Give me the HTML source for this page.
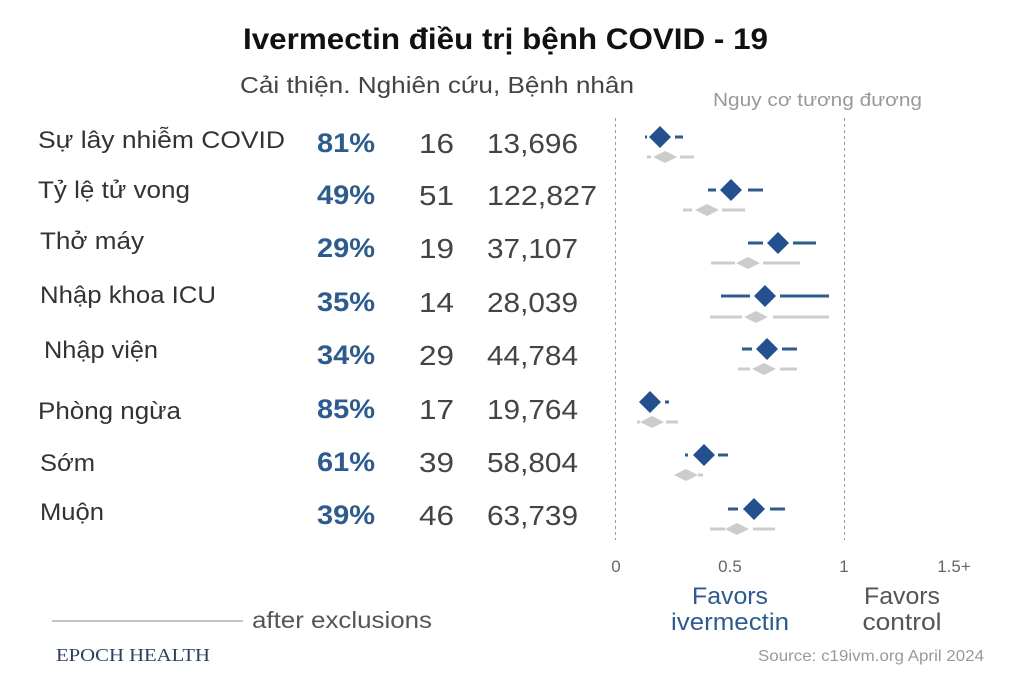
<!DOCTYPE html>
<html><head><meta charset="utf-8"><style>
html,body{margin:0;padding:0;background:#fff;}
svg{display:block;font-family:"Liberation Sans",Arial,sans-serif;}
</style></head><body>
<svg width="1024" height="683" viewBox="0 0 1024 683" xmlns="http://www.w3.org/2000/svg">
<text x="243" y="49" font-size="30" font-weight="bold" fill="#111" textLength="525" lengthAdjust="spacingAndGlyphs">Ivermectin điều trị bệnh COVID - 19</text>
<text x="240" y="93" font-size="23" fill="#444" textLength="394" lengthAdjust="spacingAndGlyphs">Cải thiện. Nghiên cứu, Bệnh nhân</text>
<text x="713" y="106" font-size="18" fill="#999" textLength="209" lengthAdjust="spacingAndGlyphs">Nguy cơ tương đương</text>
<g font-size="24" fill="#333">
<text x="38" y="148" textLength="247" lengthAdjust="spacingAndGlyphs">Sự lây nhiễm COVID</text>
<text x="38" y="198" textLength="152" lengthAdjust="spacingAndGlyphs">Tỷ lệ tử vong</text>
<text x="40" y="249" textLength="104" lengthAdjust="spacingAndGlyphs">Thở máy</text>
<text x="40" y="303" textLength="176" lengthAdjust="spacingAndGlyphs">Nhập khoa ICU</text>
<text x="44" y="358" textLength="114" lengthAdjust="spacingAndGlyphs">Nhập viện</text>
<text x="38" y="419" textLength="143" lengthAdjust="spacingAndGlyphs">Phòng ngừa</text>
<text x="40" y="471" textLength="55" lengthAdjust="spacingAndGlyphs">Sớm</text>
<text x="40" y="520" textLength="64" lengthAdjust="spacingAndGlyphs">Muộn</text>
</g>
<g font-size="27" font-weight="bold" fill="#2d5b8d">
<text x="317" y="152" textLength="58" lengthAdjust="spacingAndGlyphs">81%</text><text x="317" y="204" textLength="58" lengthAdjust="spacingAndGlyphs">49%</text><text x="317" y="257" textLength="58" lengthAdjust="spacingAndGlyphs">29%</text><text x="317" y="311" textLength="58" lengthAdjust="spacingAndGlyphs">35%</text>
<text x="317" y="364" textLength="58" lengthAdjust="spacingAndGlyphs">34%</text><text x="317" y="418" textLength="58" lengthAdjust="spacingAndGlyphs">85%</text><text x="317" y="471" textLength="58" lengthAdjust="spacingAndGlyphs">61%</text><text x="317" y="524" textLength="58" lengthAdjust="spacingAndGlyphs">39%</text>
</g>
<g font-size="28" fill="#444">
<text x="419" y="153" textLength="35" lengthAdjust="spacingAndGlyphs">16</text><text x="487" y="153" textLength="91" lengthAdjust="spacingAndGlyphs">13,696</text>
<text x="419" y="205" textLength="35" lengthAdjust="spacingAndGlyphs">51</text><text x="487" y="205" textLength="110" lengthAdjust="spacingAndGlyphs">122,827</text>
<text x="419" y="258" textLength="35" lengthAdjust="spacingAndGlyphs">19</text><text x="487" y="258" textLength="91" lengthAdjust="spacingAndGlyphs">37,107</text>
<text x="419" y="312" textLength="35" lengthAdjust="spacingAndGlyphs">14</text><text x="487" y="312" textLength="91" lengthAdjust="spacingAndGlyphs">28,039</text>
<text x="419" y="365" textLength="35" lengthAdjust="spacingAndGlyphs">29</text><text x="487" y="365" textLength="91" lengthAdjust="spacingAndGlyphs">44,784</text>
<text x="419" y="419" textLength="35" lengthAdjust="spacingAndGlyphs">17</text><text x="487" y="419" textLength="91" lengthAdjust="spacingAndGlyphs">19,764</text>
<text x="419" y="472" textLength="35" lengthAdjust="spacingAndGlyphs">39</text><text x="487" y="472" textLength="91" lengthAdjust="spacingAndGlyphs">58,804</text>
<text x="419" y="525" textLength="35" lengthAdjust="spacingAndGlyphs">46</text><text x="487" y="525" textLength="91" lengthAdjust="spacingAndGlyphs">63,739</text>
</g>
<line x1="615.5" y1="118" x2="615.5" y2="540" stroke="#999" stroke-dasharray="3,3"/>
<line x1="844.5" y1="118" x2="844.5" y2="540" stroke="#999" stroke-dasharray="3,3"/>
<g stroke-width="3">
<g stroke="#ccc" fill="#ccc">
<line x1="647" y1="157" x2="651" y2="157"/><line x1="680" y1="157" x2="694" y2="157"/><path d="M653 157 L665 151 L677 157 L665 163Z" stroke="none"/>
<line x1="683" y1="210" x2="692" y2="210"/><line x1="722" y1="210" x2="745" y2="210"/><path d="M695 210 L707 204 L719 210 L707 216Z" stroke="none"/>
<line x1="711" y1="263" x2="735" y2="263"/><line x1="763" y1="263" x2="800" y2="263"/><path d="M736 263 L748 257 L760 263 L748 269Z" stroke="none"/>
<line x1="710" y1="317" x2="742" y2="317"/><line x1="773" y1="317" x2="829" y2="317"/><path d="M744 317 L756 311 L768 317 L756 323Z" stroke="none"/>
<line x1="738" y1="369" x2="750" y2="369"/><line x1="780" y1="369" x2="797" y2="369"/><path d="M752 369 L764 363 L776 369 L764 375Z" stroke="none"/>
<line x1="637" y1="422" x2="640" y2="422"/><line x1="666" y1="422" x2="678" y2="422"/><path d="M640 422 L652 416 L664 422 L652 428Z" stroke="none"/>
<line x1="698" y1="475" x2="703" y2="475"/><path d="M674 475 L686 469 L698 475 L686 481Z" stroke="none"/>
<line x1="710" y1="529" x2="725" y2="529"/><line x1="753" y1="529" x2="775" y2="529"/><path d="M725 529 L737 523 L749 529 L737 535Z" stroke="none"/>
</g>
<g stroke="#2d5b8d" fill="#24508f">
<line x1="645" y1="137" x2="647" y2="137"/><line x1="675" y1="137" x2="683" y2="137"/><path d="M649 137 L660 126 L671 137 L660 148Z" stroke="none"/>
<line x1="708" y1="190" x2="716" y2="190"/><line x1="748" y1="190" x2="763" y2="190"/><path d="M720 190 L731 179 L742 190 L731 201Z" stroke="none"/>
<line x1="748" y1="243" x2="763" y2="243"/><line x1="793" y1="243" x2="816" y2="243"/><path d="M767 243 L778 232 L789 243 L778 254Z" stroke="none"/>
<line x1="721" y1="296" x2="750" y2="296"/><line x1="780" y1="296" x2="829" y2="296"/><path d="M754 296 L765 285 L776 296 L765 307Z" stroke="none"/>
<line x1="742" y1="349" x2="752" y2="349"/><line x1="782" y1="349" x2="797" y2="349"/><path d="M756 349 L767 338 L778 349 L767 360Z" stroke="none"/>
<line x1="665" y1="402" x2="669" y2="402"/><path d="M639 402 L650 391 L661 402 L650 413Z" stroke="none"/>
<line x1="685" y1="455" x2="688" y2="455"/><line x1="718" y1="455" x2="728" y2="455"/><path d="M693 455 L704 444 L715 455 L704 466Z" stroke="none"/>
<line x1="728" y1="509" x2="738" y2="509"/><line x1="770" y1="509" x2="785" y2="509"/><path d="M743 509 L754 498 L765 509 L754 520Z" stroke="none"/>
</g>
</g>
<g font-size="17" fill="#666">
<text x="616" y="572" text-anchor="middle">0</text>
<text x="730" y="572" text-anchor="middle">0.5</text>
<text x="844" y="572" text-anchor="middle">1</text>
<text x="954" y="572" text-anchor="middle">1.5+</text>
</g>
<g font-size="24" text-anchor="middle">
<text x="730" y="604" fill="#2d5b8d" textLength="76" lengthAdjust="spacingAndGlyphs">Favors</text><text x="730" y="630" fill="#2d5b8d" textLength="118" lengthAdjust="spacingAndGlyphs">ivermectin</text>
<text x="902" y="604" fill="#555" textLength="76" lengthAdjust="spacingAndGlyphs">Favors</text><text x="902" y="630" fill="#555" textLength="79" lengthAdjust="spacingAndGlyphs">control</text>
</g>
<line x1="52" y1="621" x2="243" y2="621" stroke="#888" stroke-width="1"/>
<text x="252" y="628" font-size="23" fill="#555" textLength="180" lengthAdjust="spacingAndGlyphs">after exclusions</text>
<text x="56" y="661" font-size="18" fill="#2b3f5e" font-family="Liberation Serif,serif" textLength="154" lengthAdjust="spacingAndGlyphs">EPOCH HEALTH</text>
<text x="758" y="661" font-size="16" fill="#999" textLength="226" lengthAdjust="spacingAndGlyphs">Source: c19ivm.org April 2024</text>
</svg>
</body></html>
